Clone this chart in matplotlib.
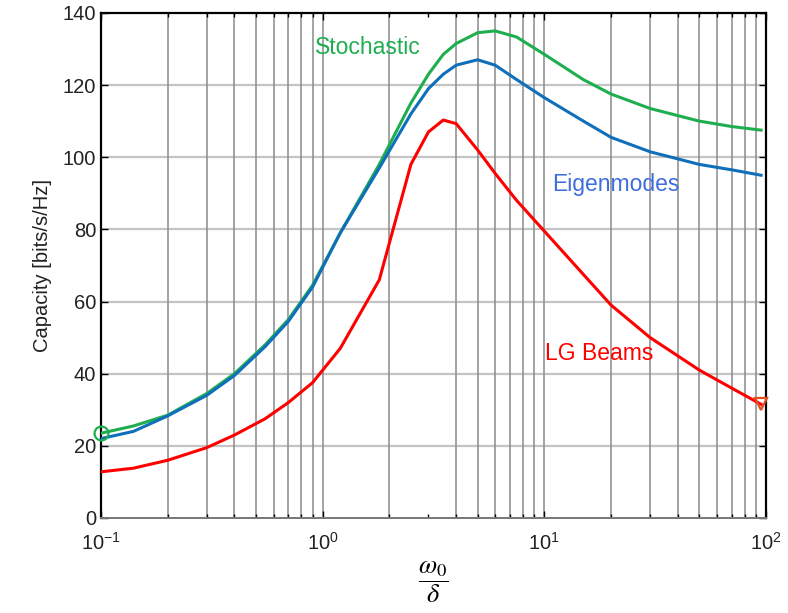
import matplotlib
matplotlib.use("Agg")
import matplotlib.pyplot as plt
import numpy as np

# ── Data ──
x = [0.1, 0.14, 0.2, 0.3, 0.4, 0.55, 0.7, 0.9, 1.2, 1.8, 2.5, 3.0, 3.5, 4.0,
     5.0, 6.0, 7.5, 10, 15, 20, 30, 50, 70, 95]
stochastic = [23.5, 25.5, 28.5, 34.5, 40, 48, 55, 64.5, 79, 98, 115, 123, 128.5,
              131.5, 134.5, 135, 133.3, 128.5, 121.5, 117.5, 113.5, 110, 108.5, 107.5]
eigenmodes = [22, 24, 28.3, 34, 39.5, 47.5, 54.5, 64, 79, 97, 112, 119, 123,
              125.5, 127, 125.5, 121.5, 116.5, 110, 105.5, 101.5, 98, 96.5, 95]
lg_beams = [12.8, 13.8, 16, 19.5, 23, 27.5, 32, 37.5, 47, 66, 98, 107, 110.3,
            109.3, 102, 95.5, 88, 79.5, 67.5, 59, 50, 41, 36, 31.5]
y_ticks = [0, 20, 40, 60, 80, 100, 120, 140]

C_GREEN = "#1fae4f"
C_BLUE = "#0f6fba"
C_RED = "#ff0000"

plt.rcParams["font.family"] = ["Liberation Sans", "DejaVu Sans"]
plt.rcParams["mathtext.fontset"] = "custom"
plt.rcParams["mathtext.rm"] = "Liberation Sans"
plt.rcParams["mathtext.it"] = "Liberation Sans:italic"

fig = plt.figure(figsize=(7.88, 6.13), dpi=100)
ax = fig.add_axes([0.1282, 0.1550, 0.8439, 0.8240])

# grid lines (the reference has no vertical line at 3)
for yv in y_ticks[1:-1]:
    ax.axhline(yv, color="#c4c4c4", lw=1.6, zorder=1)
for dec in [0.1, 1, 10]:
    for m in range(1, 10):
        xv = dec * m
        if xv == 3 or xv == 0.1:
            continue
        ax.axvline(xv, color="#8a8a8a", lw=1.1, zorder=1)

ax.semilogx(x, stochastic, color=C_GREEN, lw=2.2, zorder=3)
ax.semilogx(x, eigenmodes, color=C_BLUE, lw=2.2, zorder=3)
ax.semilogx(x, lg_beams, color=C_RED, lw=2.2, zorder=3)

ax.plot(x[0], stochastic[0], "o", ms=10, mfc="none", mec=C_GREEN, mew=1.6,
        zorder=5, clip_on=False)
ax.plot(x[-1], lg_beams[-1], "v", ms=9, mfc="none", mec="#e0501f", mew=1.6,
        zorder=5, clip_on=False)

ax.set_xlim(0.1, 100)
ax.set_ylim(0, 140)
ax.set_yticks(y_ticks)
ax.tick_params(which="both", direction="in", top=True, right=True,
               labelsize=14.5, colors="black", labelcolor="#222222")
ax.tick_params(which="major", length=5, width=1)
ax.tick_params(which="minor", length=3, width=1)
ax.tick_params(axis="x", pad=10)

for s in ["left", "top", "right"]:
    ax.spines[s].set_linewidth(1.6)
    ax.spines[s].set_color("black")
ax.spines["bottom"].set_color("#777777")
ax.spines["bottom"].set_linewidth(1.4)

ax.set_ylabel("Capacity [bits/s/Hz]", fontsize=14.5, color="#222222", labelpad=8)
ax.set_xlabel(r"$\dfrac{\omega_0}{\delta}$", fontsize=19, math_fontfamily="stix",
              labelpad=4)

ax.text(0.92, 130.5, "Stochastic", color=C_GREEN, fontsize=16.5, va="center", ha="left")
ax.text(10.8, 92.3, "Eigenmodes", color="#3f6de0", fontsize=16.5, va="center", ha="left")
ax.text(10.1, 45.7, "LG Beams", color=C_RED, fontsize=16.5, va="center", ha="left")

plt.savefig("out.png", dpi=100, facecolor="white")
plt.close()
